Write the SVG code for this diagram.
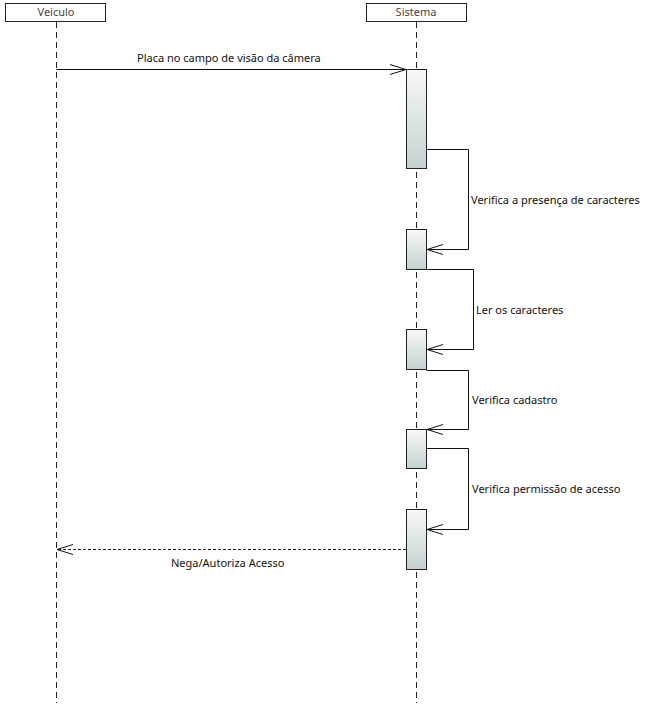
<svg xmlns="http://www.w3.org/2000/svg" width="646" height="712" viewBox="0 0 646 712">
<style>
.actor{fill:#fff;stroke:#222;stroke-width:1}
.atext{font-family:"Noto Sans","Open Sans",sans-serif;font-size:11px;fill:#444;text-anchor:middle}
.life{stroke:#222;stroke-width:1;stroke-dasharray:6,4;fill:none}
.act{fill:url(#g);stroke:#222;stroke-width:1}
.msg{stroke:#111;stroke-width:1;fill:none}
.ret{stroke:#111;stroke-width:1;fill:none;stroke-dasharray:3,2}
.lbl{font-family:"Noto Sans","Open Sans",sans-serif;font-size:11px;fill:#111}
</style>
<defs>
<linearGradient id="g" x1="0" y1="0" x2="0" y2="1">
<stop offset="0" stop-color="#f7f8f8"/>
<stop offset="1" stop-color="#c5d1d1"/>
</linearGradient>
<marker id="open" markerWidth="18" markerHeight="12" refX="16" refY="6" orient="auto" markerUnits="userSpaceOnUse">
<path d="M0,1 L16,6 L0,11" fill="none" stroke="#111" stroke-width="1"/>
</marker>
</defs>
<rect width="646" height="712" fill="#fff"/>
<g id="veiculo">
<rect class="actor" x="5.5" y="3.5" width="100" height="18"/>
<text class="atext" x="56" y="16">Veiculo</text>
<line class="life" x1="56.5" y1="22" x2="56.5" y2="703"/>
</g>
<g id="sistema">
<rect class="actor" x="366.5" y="3.5" width="100" height="18"/>
<text class="atext" x="416" y="16">Sistema</text>
<line class="life" x1="416.5" y1="22" x2="416.5" y2="703"/>
</g>
<g id="activations">
<rect class="act" x="406.5" y="69.5" width="20" height="99"/>
<rect class="act" x="406.5" y="229.5" width="20" height="40"/>
<rect class="act" x="406.5" y="329.5" width="20" height="40"/>
<rect class="act" x="406.5" y="429.5" width="20" height="39"/>
<rect class="act" x="406.5" y="509.5" width="20" height="60"/>
</g>
<g id="connectors">
<line class="msg" x1="56.5" y1="69.5" x2="406" y2="69.5" marker-end="url(#open)"/>
<text class="lbl" x="137" y="62">Placa no campo de visão da câmera</text>
<polyline class="msg" points="426.5,149.5 468.5,149.5 468.5,249.5 427,249.5" marker-end="url(#open)"/>
<text class="lbl" x="471" y="204">Verifica a presença de caracteres</text>
<polyline class="msg" points="426.5,269.5 473.5,269.5 473.5,349.5 427,349.5" marker-end="url(#open)"/>
<text class="lbl" x="476" y="314">Ler os caracteres</text>
<polyline class="msg" points="426.5,370.5 468.5,370.5 468.5,429.5 427,429.5" marker-end="url(#open)"/>
<text class="lbl" x="472" y="404">Verifica cadastro</text>
<polyline class="msg" points="426.5,448.5 468.5,448.5 468.5,529.5 427,529.5" marker-end="url(#open)"/>
<text class="lbl" x="472" y="493">Verifica permissão de acesso</text>
<line class="ret" x1="406" y1="549.5" x2="57" y2="549.5" marker-end="url(#open)"/>
<text class="lbl" x="171" y="567">Nega/Autoriza Acesso</text>
</g>
</svg>
